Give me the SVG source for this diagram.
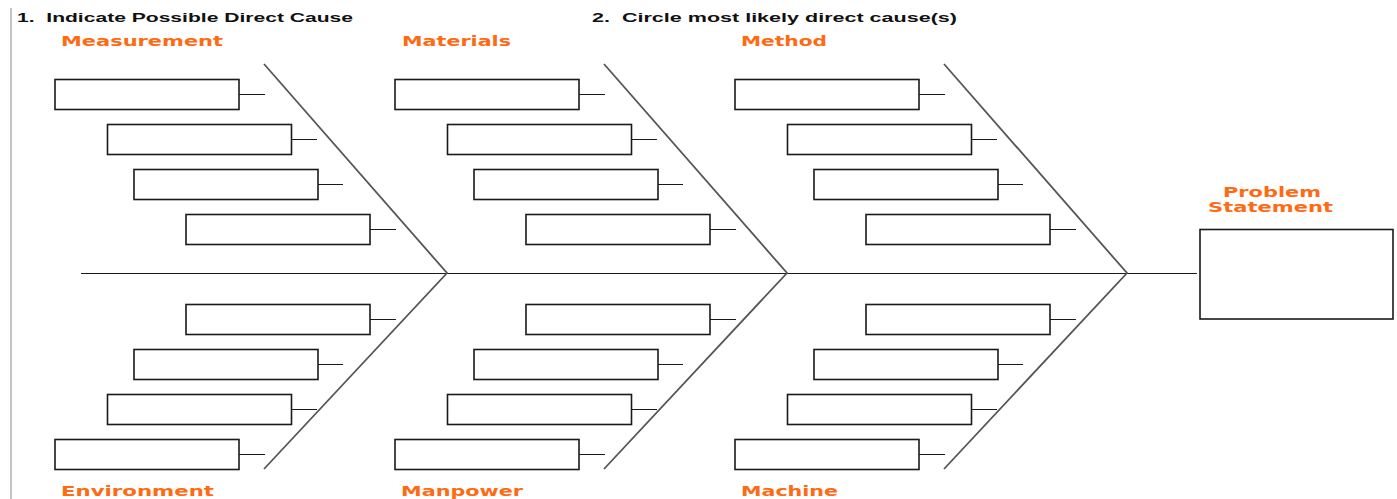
<svg xmlns="http://www.w3.org/2000/svg" width="1397" height="499" viewBox="0 0 1397 499">
<defs>
<style>
.box{fill:#fff;stroke:#1a1a1a;stroke-width:1.6}
.tick{stroke:#1a1a1a;stroke-width:1.2}
.bone{stroke:#555;stroke-width:1.8;fill:none}
.spine{stroke:#1a1a1a;stroke-width:1.2}
.cat{font-family:"DejaVu Sans",Verdana,sans-serif;font-weight:bold;font-size:13.5px;fill:#FF6A13}
.head{font-family:"Liberation Sans",Arial,sans-serif;font-weight:bold;font-size:13px;fill:#111}
</style>
<g id="rows">
<rect id="r" class="box" x="0" y="0" width="184" height="30"/>
</g>
</defs>
<rect width="1397" height="499" fill="#fff"/>
<line x1="11" y1="8" x2="11" y2="499" stroke="#c4c4c4" stroke-width="2"/>

<g id="headings">
<text class="head" x="17" y="22" textLength="336" lengthAdjust="spacingAndGlyphs" xml:space="preserve">1.  Indicate Possible Direct Cause</text>
<text class="head" x="592" y="22" textLength="365" lengthAdjust="spacingAndGlyphs" xml:space="preserve">2.  Circle most likely direct cause(s)</text>
</g>

<g id="labels">
<text class="cat" x="61" y="46" textLength="162" lengthAdjust="spacingAndGlyphs">Measurement</text>
<text class="cat" x="402" y="46" textLength="109" lengthAdjust="spacingAndGlyphs">Materials</text>
<text class="cat" x="741" y="46" textLength="86" lengthAdjust="spacingAndGlyphs">Method</text>
<text class="cat" x="61" y="496" textLength="153" lengthAdjust="spacingAndGlyphs">Environment</text>
<text class="cat" x="401" y="496" textLength="122" lengthAdjust="spacingAndGlyphs">Manpower</text>
<text class="cat" x="741" y="496" textLength="97" lengthAdjust="spacingAndGlyphs">Machine</text>
</g>

<g id="connectors">
<line class="spine" x1="81" y1="273.5" x2="1197" y2="273.5"/>
<path class="bone" d="M264,64 L447,273 L264,469"/>
<path class="bone" d="M604,64 L787,273 L604,469"/>
<path class="bone" d="M944,64 L1127,273 L944,469"/>
<g id="ticks">
<path class="tick" d="M239,94.5h26M291,139.5h26M317,184.5h26M369,229.5h27M369,319.5h27M317,364.5h26M291,409.5h26M239,454.5h26"/>
<path class="tick" transform="translate(340,0)" d="M239,94.5h26M291,139.5h26M317,184.5h26M369,229.5h27M369,319.5h27M317,364.5h26M291,409.5h26M239,454.5h26"/>
<path class="tick" transform="translate(680,0)" d="M239,94.5h26M291,139.5h26M317,184.5h26M369,229.5h27M369,319.5h27M317,364.5h26M291,409.5h26M239,454.5h26"/>
</g>
</g>

<g id="measurement">
<use href="#r" x="55" y="79.5"/><use href="#r" x="107.5" y="124.5"/><use href="#r" x="134" y="169.5"/><use href="#r" x="186" y="214.5"/>
</g>
<g id="materials">
<use href="#r" x="395" y="79.5"/><use href="#r" x="447.5" y="124.5"/><use href="#r" x="474" y="169.5"/><use href="#r" x="526" y="214.5"/>
</g>
<g id="method">
<use href="#r" x="735" y="79.5"/><use href="#r" x="787.5" y="124.5"/><use href="#r" x="814" y="169.5"/><use href="#r" x="866" y="214.5"/>
</g>
<g id="environment">
<use href="#r" x="186" y="304.5"/><use href="#r" x="134" y="349.5"/><use href="#r" x="107.5" y="394.5"/><use href="#r" x="55" y="439.5"/>
</g>
<g id="manpower">
<use href="#r" x="526" y="304.5"/><use href="#r" x="474" y="349.5"/><use href="#r" x="447.5" y="394.5"/><use href="#r" x="395" y="439.5"/>
</g>
<g id="machine">
<use href="#r" x="866" y="304.5"/><use href="#r" x="814" y="349.5"/><use href="#r" x="787.5" y="394.5"/><use href="#r" x="735" y="439.5"/>
</g>

<g id="problem">
<text class="cat" x="1223" y="197" textLength="98" lengthAdjust="spacingAndGlyphs">Problem</text>
<text class="cat" x="1208" y="212" textLength="125" lengthAdjust="spacingAndGlyphs">Statement</text>
<rect class="box" x="1200" y="229.5" width="193" height="89.5"/>
</g>
</svg>
